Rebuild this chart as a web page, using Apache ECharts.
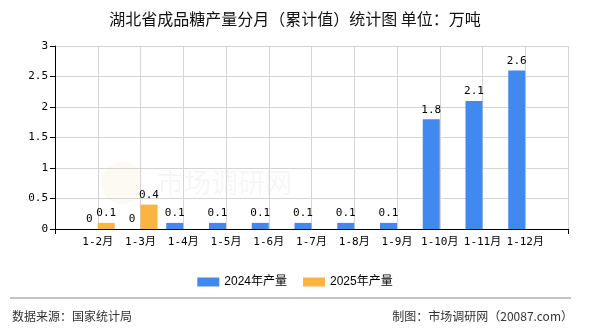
<!DOCTYPE html>
<html>
<head>
<meta charset="utf-8">
<script src="https://cdn.jsdelivr.net/npm/echarts@6/dist/echarts.min.js"></script>
<style>
html,body{margin:0;padding:0;background:#fff;}
#main{width:590px;height:330px;}
</style>
</head>
<body>
<div id="main"></div>
<script>
var categories = ['1-2月','1-3月','1-4月','1-5月','1-6月','1-7月','1-8月','1-9月','1-10月','1-11月','1-12月'];
var values2024 = [0, 0, 0.1, 0.1, 0.1, 0.1, 0.1, 0.1, 1.8, 2.1, 2.6];
var values2025 = [0.1, 0.4, null, null, null, null, null, null, null, null, null];
var seriesNames = ['2024年产量', '2025年产量'];
var yTicks = [0, 0.5, 1, 1.5, 2, 2.5, 3];

var axisCats = [''].concat(categories).concat(['']);
function pad(arr){ return [null].concat(arr).concat([null]); }

var mono = "'DejaVu Sans Mono','Noto Sans CJK SC',monospace";
var cjk = "'Noto Sans CJK SC','Liberation Sans',sans-serif";

var chart = echarts.init(document.getElementById('main'), null, {renderer:'canvas'});
var labelOpt = {show:true, position:'top', distance:4, color:'#000', fontSize:11, fontFamily:mono};
chart.setOption({
  animation:false,
  backgroundColor:'#fff',
  title:{
    text:'湖北省成品糖产量分月（累计值）统计图 单位：万吨',
    left:'center', top:6,
    textStyle:{fontSize:16, fontWeight:'normal', color:'#111', fontFamily:cjk}
  },
  legend:{
    data:seriesNames,
    top:271, left:'center',
    itemWidth:22, itemHeight:9, itemGap:16,
    icon:'rect',
    textStyle:{fontSize:12, color:'#000', fontFamily:"'Liberation Sans','Noto Sans CJK SC',sans-serif"}
  },
  grid:{left:55, right:22, top:46, bottom:101, containLabel:false},
  xAxis:{
    type:'category',
    data:axisCats,
    boundaryGap:false,
    axisLine:{lineStyle:{color:'#000', width:1}},
    axisTick:{show:true, length:5, interval:function(i){return i===0 || i===axisCats.length-1;}, lineStyle:{color:'#000'}},
    axisLabel:{interval:0, color:'#000', fontSize:11, fontFamily:mono, margin:8},
    splitLine:{show:true, interval:0, lineStyle:{color:'#d4d4d4', width:1}}
  },
  yAxis:{
    type:'value',
    min:yTicks[0], max:yTicks[yTicks.length-1], interval:0.5,
    axisLine:{show:true, lineStyle:{color:'#000', width:1}},
    axisTick:{show:true, length:5, lineStyle:{color:'#000'}},
    axisLabel:{color:'#000', fontSize:11, fontFamily:mono, margin:7},
    splitLine:{show:true, lineStyle:{color:'#d4d4d4', width:1}}
  },
  graphic:[
    {type:'circle', shape:{cx:122, cy:183, r:21}, style:{fill:'rgba(240,200,140,0.10)'}},
    {type:'text', left:157, top:169, style:{text:'市场调研网', fontSize:27, fill:'rgba(0,0,0,0.035)', fontFamily:cjk}},
    {type:'line', shape:{x1:10, y1:298, x2:571, y2:298}, style:{stroke:'#888', lineWidth:1}},
    {type:'text', left:12, top:310, style:{text:'数据来源：国家统计局', fontSize:12, fill:'#333', fontFamily:cjk}},
    {type:'text', right:17, top:310, style:{text:'制图：市场调研网（20087.com）', fontSize:12, fill:'#333', fontFamily:cjk}}
  ],
  series:[
    {name:seriesNames[0], type:'bar', data:pad(values2024), barWidth:17, barGap:'0%',
     itemStyle:{color:'#4189ef'}, label:labelOpt},
    {name:seriesNames[1], type:'bar', data:pad(values2025), barWidth:17, barGap:'0%',
     itemStyle:{color:'#fbb342'}, label:labelOpt}
  ]
});
</script>
</body>
</html>
